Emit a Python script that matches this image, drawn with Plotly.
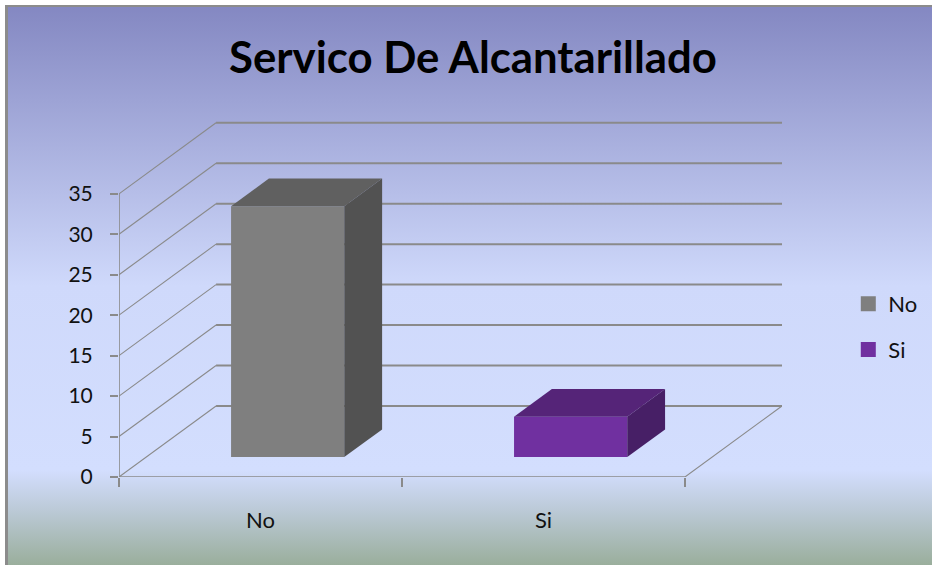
import base64
import plotly.graph_objects as go

TITLE = "Servico De Alcantarillado"
categories = ["No", "Si"]
values = [31, 5]
front_colors = ["#7f7f7f", "#7030a0"]
top_colors = ["#606060", "#552478"]
side_colors = ["#525252", "#471f66"]
y_ticks = [0, 5, 10, 15, 20, 25, 30, 35]

# oblique projection of Excel's 3D column, in axis units
DEPTH_X = 0.343
DEPTH_Y = 8.78
BAR_WIDTH = 0.4
FLOOR_GAP = 0.28    # how far back the bars stand
BAR_DEPTH = 0.39    # depth of a bar, as a share of the whole floor
GRID = "#8a8a8a"


def background_uri():
    svg = """<svg xmlns="http://www.w3.org/2000/svg" width="932" height="565" preserveAspectRatio="none">
<defs><linearGradient id="g" x1="0" y1="0" x2="0" y2="1">
<stop offset="0" stop-color="#8488c2"/>
<stop offset="0.5" stop-color="#cfd9fb"/>
<stop offset="0.83" stop-color="#d3defe"/>
<stop offset="0.9" stop-color="#bccad8"/>
<stop offset="1" stop-color="#9aae9c"/>
</linearGradient></defs>
<rect width="932" height="565" fill="#ffffff"/>
<rect x="5" y="5" width="927" height="560" fill="#8c8c8c"/>
<rect x="8" y="7" width="924" height="558" fill="url(#g)"/>
</svg>"""
    return "data:image/svg+xml;base64," + base64.b64encode(svg.encode()).decode()


fig = go.Figure()

x_left, x_right = -0.5, 1.5

# walls and floor lines
for v in y_ticks:
    fig.add_shape(type="line", xref="x", yref="y", layer="below",
                  x0=x_left, y0=v, x1=x_left + DEPTH_X, y1=v + DEPTH_Y,
                  line=dict(color=GRID, width=1.1))
    fig.add_shape(type="line", xref="x", yref="y", layer="below",
                  x0=x_left + DEPTH_X, y0=v + DEPTH_Y, x1=x_right + DEPTH_X, y1=v + DEPTH_Y,
                  line=dict(color=GRID, width=2))
fig.add_shape(type="line", xref="x", yref="y", layer="below",
              x0=x_right, y0=0, x1=x_right + DEPTH_X, y1=DEPTH_Y,
              line=dict(color=GRID, width=1.1))

# front faces
base_y = FLOOR_GAP * DEPTH_Y
shift_x = FLOOR_GAP * DEPTH_X
fig.add_trace(go.Bar(
    x=[i + shift_x for i in range(len(categories))],
    y=values,
    base=base_y,
    width=BAR_WIDTH,
    marker=dict(color=front_colors, line=dict(width=0)),
    showlegend=False,
))

# top and side faces
dx = BAR_DEPTH * DEPTH_X
dy = BAR_DEPTH * DEPTH_Y
for i, v in enumerate(values):
    x0 = i + shift_x - BAR_WIDTH / 2
    x1 = i + shift_x + BAR_WIDTH / 2
    y0 = base_y
    y1 = base_y + v
    fig.add_trace(go.Scatter(
        x=[x0, x1, x1 + dx, x0 + dx, x0], y=[y1, y1, y1 + dy, y1 + dy, y1],
        mode="lines", fill="toself", fillcolor=top_colors[i],
        line=dict(width=0), showlegend=False, hoverinfo="skip",
    ))
    fig.add_trace(go.Scatter(
        x=[x1, x1 + dx, x1 + dx, x1, x1], y=[y0, y0 + dy, y1 + dy, y1, y0],
        mode="lines", fill="toself", fillcolor=side_colors[i],
        line=dict(width=0), showlegend=False, hoverinfo="skip",
    ))

# axis lines stop at the front corner, so no showline here
fig.add_trace(go.Scatter(
    x=[x_left, x_left, x_right], y=[y_ticks[-1], 0, 0],
    mode="lines", line=dict(color=GRID, width=1.6),
    cliponaxis=False, showlegend=False, hoverinfo="skip",
))

# legend entries
for name, color in zip(categories, front_colors):
    fig.add_trace(go.Scatter(
        x=[None], y=[None], name=name, legendgroup=name, mode="markers",
        marker=dict(symbol="square", size=15, color=color),
    ))

fig.update_layout(
    width=932,
    height=565,
    autosize=False,
    margin=dict(l=119, r=150, t=121, b=88, autoexpand=False),
    paper_bgcolor="white",
    plot_bgcolor="rgba(0,0,0,0)",
    font=dict(family="Lato, sans-serif", color="#111111", size=22),
    title=dict(text=f"<b>{TITLE}</b>", x=473 / 932, y=1 - 58 / 565,
               xanchor="center", yanchor="middle",
               font=dict(family="Lato, sans-serif", size=43.7, color="#000000")),
    xaxis=dict(
        range=[x_left, x_right + DEPTH_X],
        tickmode="array", tickvals=list(range(len(categories))), ticktext=categories,
        ticks="outside", ticklen=0, tickcolor="rgba(0,0,0,0)",
        ticklabelstandoff=24,
        minor=dict(tickmode="array", tickvals=[-0.5, 0.5, 1.5], ticks="outside",
                   ticklen=9, tickwidth=2, tickcolor=GRID),
        showgrid=False, zeroline=False, showline=False,
    ),
    yaxis=dict(
        range=[0, 44],
        tickmode="array", tickvals=y_ticks,
        ticks="outside", ticklen=8, tickwidth=2, tickcolor=GRID,
        ticklabelstandoff=13,
        tickfont=dict(size=21),
        showgrid=False, zeroline=False, showline=False,
    ),
    legend=dict(
        x=1.10, y=0.545, xanchor="left", yanchor="top",
        bgcolor="rgba(0,0,0,0)", font=dict(size=22),
        itemwidth=30, tracegroupgap=14,
    ),
    images=[dict(source=background_uri(), xref="paper", yref="paper", layer="below",
                 x=-119 / 663, y=1 + 121 / 356, sizex=932 / 663, sizey=565 / 356,
                 sizing="stretch", xanchor="left", yanchor="top")],
)

fig.write_html("out.html", config=dict(displayModeBar=False),
               post_script="document.body.style.margin='0';document.body.style.overflow='hidden';")
